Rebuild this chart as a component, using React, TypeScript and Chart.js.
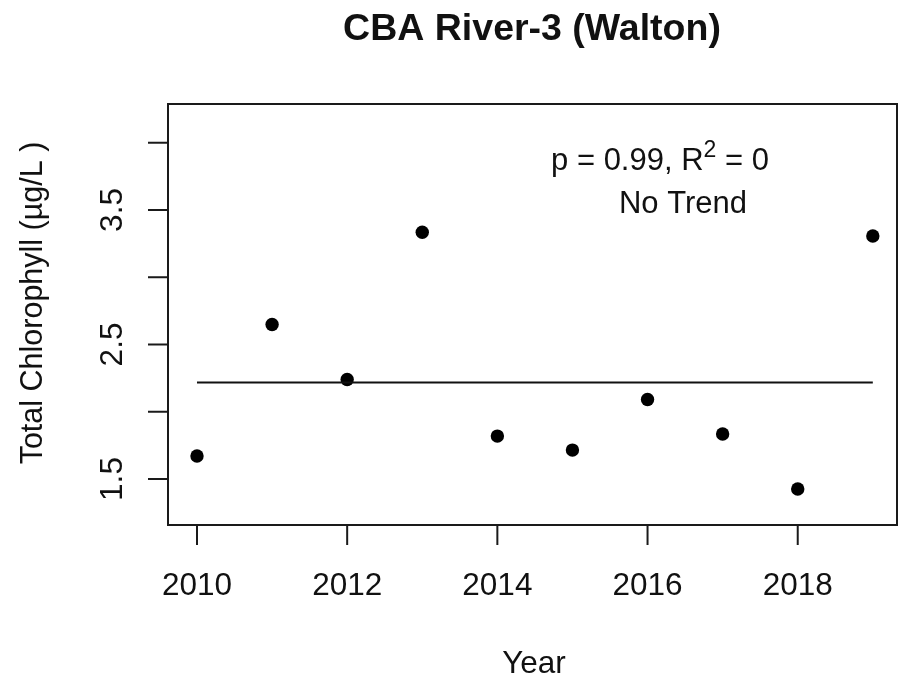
import React, { useEffect, useRef } from "react";
import { Chart, registerables } from "chart.js";

Chart.register(...registerables);

const years = [2010, 2011, 2012, 2013, 2014, 2015, 2016, 2017, 2018, 2019];
const chlorophyll = [1.671, 2.649, 2.24, 3.334, 1.819, 1.715, 2.091, 1.834, 1.426, 3.307];
const trendValue = 2.218;
const trendYears = [2010, 2019];
const xTicks = [2010, 2012, 2014, 2016, 2018];
const yTicks = [1.5, 2.0, 2.5, 3.0, 3.5, 4.0];
const yTickLabels = ["1.5", "", "2.5", "", "3.5", ""];
const titleText = "CBA River-3 (Walton)";
const xTitle = "Year";
const yTitle = "Total Chlorophyll (µg/L )";
const statsMain = "p = 0.99, R";
const statsSup = "2";
const statsTail = " = 0";
const trendText = "No Trend";

const FONT = "'Liberation Sans', Arial, sans-serif";

const rAxesPlugin = {
  id: "rAxes",
  afterDraw(chart: any) {
    const { ctx, chartArea, scales } = chart;
    const xs = scales.x;
    const ys = scales.y;
    ctx.save();
    ctx.strokeStyle = "#1a1a1a";
    ctx.lineWidth = 2;
    // box
    ctx.strokeRect(chartArea.left, chartArea.top, chartArea.right - chartArea.left, chartArea.bottom - chartArea.top);
    // x ticks
    ctx.fillStyle = "#111";
    ctx.font = `31.5px ${FONT}`;
    ctx.textAlign = "center";
    ctx.textBaseline = "alphabetic";
    xTicks.forEach((v) => {
      const px = xs.getPixelForValue(v);
      ctx.beginPath();
      ctx.moveTo(px, chartArea.bottom);
      ctx.lineTo(px, chartArea.bottom + 20);
      ctx.stroke();
      ctx.fillText(String(v), px, 595);
    });
    // y ticks
    yTicks.forEach((v, i) => {
      const py = ys.getPixelForValue(v);
      ctx.beginPath();
      ctx.moveTo(chartArea.left, py);
      ctx.lineTo(chartArea.left - 20, py);
      ctx.stroke();
      const lab = yTickLabels[i];
      if (lab) {
        ctx.save();
        ctx.translate(122, py);
        ctx.rotate(-Math.PI / 2);
        ctx.textAlign = "center";
        ctx.fillText(lab, 0, 0);
        ctx.restore();
      }
    });
    // x title
    ctx.fillText(xTitle, 534, 673);
    // y title
    ctx.save();
    ctx.translate(42, 303);
    ctx.rotate(-Math.PI / 2);
    ctx.textAlign = "center";
    ctx.font = `30.5px ${FONT}`;
    ctx.fillText(yTitle, 0, 0);
    ctx.restore();
    // main title
    ctx.font = `bold 37.5px ${FONT}`;
    ctx.textAlign = "center";
    ctx.fillText(titleText, 532, 40);
    // stats annotation
    ctx.font = `31px ${FONT}`;
    ctx.textAlign = "left";
    const w1 = ctx.measureText(statsMain).width;
    const w3 = ctx.measureText(statsTail).width;
    ctx.font = `23px ${FONT}`;
    const w2 = ctx.measureText(statsSup).width;
    const total = w1 + w2 + w3;
    let sx = 660 - total / 2;
    ctx.font = `31px ${FONT}`;
    ctx.fillText(statsMain, sx, 170);
    sx += w1;
    ctx.font = `23px ${FONT}`;
    ctx.fillText(statsSup, sx, 157);
    sx += w2;
    ctx.font = `31px ${FONT}`;
    ctx.fillText(statsTail, sx, 170);
    ctx.textAlign = "center";
    ctx.fillText(trendText, 683, 213);
    ctx.restore();
  },
};

export default function App() {
  const ref = useRef<HTMLCanvasElement | null>(null);
  useEffect(() => {
    if (!ref.current) return;
    const chart = new Chart(ref.current, {
      type: "scatter",
      data: {
        datasets: [
          {
            type: "line",
            data: trendYears.map((x) => ({ x, y: trendValue })),
            borderColor: "#111",
            borderWidth: 2,
            pointRadius: 0,
            fill: false,
          } as any,
          {
            type: "scatter",
            data: years.map((x, i) => ({ x, y: chlorophyll[i] })),
            backgroundColor: "#000",
            borderWidth: 0,
            pointRadius: 6.7,
          },
        ],
      },
      options: {
        animation: false,
        responsive: false,
        devicePixelRatio: 1,
        layout: { autoPadding: false, padding: { left: 168, top: 104, right: 1, bottom: 162 } },
        plugins: { legend: { display: false }, tooltip: { enabled: false }, title: { display: false } },
        scales: {
          x: { type: "linear", min: 2009.614, max: 2019.322, display: false },
          y: { type: "linear", min: 1.158, max: 4.288, display: false },
        },
      },
      plugins: [rAxesPlugin],
    });
    return () => chart.destroy();
  }, []);
  return (
    <div style={{ position: "fixed", left: 0, top: 0, width: 898, height: 687, background: "#fff" }}>
      <canvas ref={ref} width={898} height={687} style={{ width: 898, height: 687, display: "block" }} />
    </div>
  );
}
